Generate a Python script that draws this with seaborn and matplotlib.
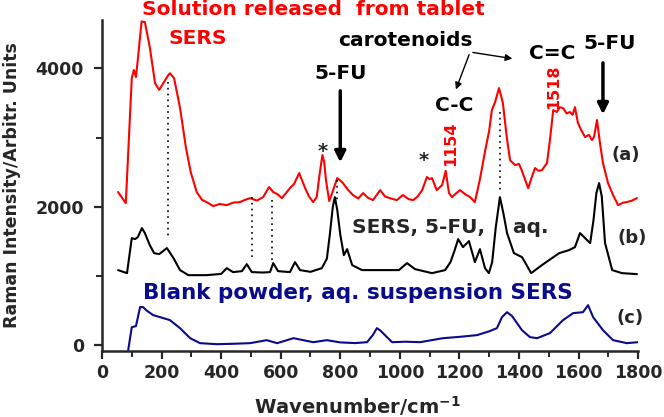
import pandas as pd
import matplotlib
matplotlib.use("Agg")
import matplotlib.pyplot as plt
import seaborn as sns

# spectra (wavenumber / cm-1, intensity)
red_wn = [54, 80, 100, 107, 114, 122, 133, 144, 161, 178, 192, 212, 222, 228, 242, 262, 282, 298, 318, 336,
          355, 373, 395, 419, 440, 463, 480, 497, 520, 541, 561, 575, 590, 604, 618, 631, 645, 662, 672, 682,
          695, 709, 721, 730, 740, 746, 752, 763, 776, 790, 800, 809, 825, 843, 860, 877, 893, 910, 934, 950,
          970, 990, 1010, 1030, 1045, 1060, 1075, 1091, 1100, 1108, 1124, 1142, 1154, 1165, 1175, 1190, 1202,
          1220, 1236, 1252, 1269, 1286, 1300, 1309, 1320, 1333, 1346, 1359, 1370, 1387, 1400, 1409, 1420, 1431,
          1443, 1454, 1466, 1477, 1494, 1504, 1515, 1527, 1537, 1548, 1560, 1571, 1580, 1588, 1598, 1610, 1622,
          1635, 1645, 1652, 1662, 1672, 1682, 1699, 1716, 1733, 1750, 1762, 1780, 1796]
red_int = [2213, 2053, 3860, 3977, 3875, 4200, 4680, 4670, 4295, 3790, 3690, 3830, 3900, 3930, 3860, 3430, 2850,
           2500, 2213, 2100, 2060, 2010, 2040, 2024, 2060, 2068, 2100, 2125, 2090, 2140, 2285, 2213, 2180, 2125,
           2200, 2270, 2330, 2487, 2380, 2270, 2150, 2068, 2140, 2450, 2748, 2650, 2386, 2082, 2241, 2415, 2380,
           2343, 2250, 2169, 2120, 2198, 2130, 2097, 2241, 2150, 2120, 2097, 2170, 2110, 2097, 2150, 2241, 2430,
           2400, 2415, 2241, 2314, 2520, 2200, 2140, 2198, 2241, 2180, 2140, 2068, 2400, 2800, 3100, 3398, 3514,
           3716, 3500, 3008, 2675, 2603, 2620, 2530, 2400, 2270, 2430, 2560, 2520, 2530, 2632, 2965, 3398, 3370,
           3440, 3427, 3350, 3370, 3330, 3441, 3210, 3100, 3008, 3040, 2965, 3008, 3254, 2921, 2632, 2343, 2169,
           2024, 2060, 2068, 2090, 2125]

black_wn = [54, 84, 100, 111, 120, 134, 144, 160, 175, 192, 218, 240, 262, 290, 352, 400, 419, 440, 470, 486,
            503, 540, 564, 575, 591, 631, 648, 665, 700, 738, 755, 765, 775, 782, 790, 800, 812, 823, 840, 873,
            997, 1024, 1051, 1108, 1152, 1170, 1182, 1196, 1212, 1232, 1252, 1269, 1286, 1299, 1310, 1322, 1336,
            1348, 1360, 1383, 1410, 1420, 1441, 1477, 1501, 1535, 1568, 1588, 1605, 1622, 1639, 1650, 1660, 1669,
            1678, 1689, 1713, 1746, 1796]
black_int = [1085, 1041, 1547, 1533, 1560, 1692, 1620, 1450, 1330, 1316, 1403, 1258, 1085, 1012, 1012, 1030,
             1113, 1056, 1070, 1171, 1056, 1050, 1056, 1186, 1070, 1056, 1200, 1085, 1060, 1113, 1250, 1600,
             2000, 2140, 1950, 1600, 1301, 1388, 1157, 1085, 1085, 1186, 1099, 1041, 1085, 1200, 1345, 1533,
             1417, 1504, 1200, 1388, 1113, 1041, 1200, 1700, 2140, 1900, 1620, 1330, 1273, 1200, 1041, 1157,
             1229, 1330, 1374, 1417, 1620, 1547, 1475, 1800, 2200, 2343, 2150, 1475, 1085, 1041, 1027]

blue_wn = [88, 100, 114, 128, 138, 150, 172, 195, 228, 262, 296, 329, 386, 440, 497, 553, 588, 643, 709, 755,
           800, 850, 890, 910, 923, 935, 950, 974, 1020, 1068, 1145, 1200, 1259, 1300, 1326, 1343, 1360, 1377,
           1410, 1437, 1461, 1504, 1548, 1582, 1615, 1632, 1649, 1682, 1716, 1762, 1800]
blue_int = [-72, 260, 275, 550, 550, 500, 434, 405, 362, 246, 101, 29, 14, 20, 29, 72, 29, 101, 43, 72,
            40, 30, 43, 150, 246, 210, 145, 43, 50, 43, 101, 120, 145, 200, 246, 405, 477, 420,
            217, 116, 101, 174, 362, 463, 477, 578, 405, 217, 72, 29, 43]

# dotted guide lines: wavenumber, top, bottom
guide_wn = [223, 504, 570, 790, 1335]
guide_top = [3800, 2140, 2100, 2390, 3370]
guide_bottom = [1547, 1230, 1200, 2050, 2213]

sns.set_style("ticks")
plt.rcParams['font.family'] = ['DejaVu Sans']
plt.rcParams['font.weight'] = 'bold'

fig = plt.figure(figsize=(6.64, 4.17), dpi=100)
ax = fig.add_axes([0.1536, 0.159, 0.8074, 0.793])

df_a = pd.DataFrame({"wn": red_wn, "I": red_int})
df_b = pd.DataFrame({"wn": black_wn, "I": black_int})
df_c = pd.DataFrame({"wn": blue_wn, "I": blue_int})

sns.lineplot(data=df_a, x="wn", y="I", color="#ff0000", lw=1.5, ax=ax, estimator=None, sort=False)
sns.lineplot(data=df_b, x="wn", y="I", color="black", lw=1.5, ax=ax, estimator=None, sort=False)
sns.lineplot(data=df_c, x="wn", y="I", color="#0a0a8c", lw=1.5, ax=ax, estimator=None, sort=False)

for w, t, b in zip(guide_wn, guide_top, guide_bottom):
    ax.plot([w, w], [t, b], ls=(0, (1, 2.5)), color="black", lw=1.2)

ax.set_xlim(0, 1800)
ax.set_ylim(-80, 4700)
ax.set_xticks(range(0, 1801, 200))
ax.set_xticks(range(100, 1800, 200), minor=True)
ax.set_yticks([0, 2000, 4000])
ax.set_yticks([1000, 3000], minor=True)
ax.tick_params(which="major", length=6, width=1.6, labelsize=12.5, direction="out")
ax.tick_params(axis="y", which="major", pad=7)
ax.tick_params(which="minor", length=4, width=1.4, direction="out")
for lab in ax.get_xticklabels() + ax.get_yticklabels():
    lab.set_fontweight("bold")
for s in ["left", "bottom"]:
    ax.spines[s].set_linewidth(1.8)
sns.despine(ax=ax)

ax.set_xlabel("Wavenumber/cm$^{\\mathbf{-1}}$", fontsize=14, fontweight="bold")
ax.set_ylabel("Raman Intensity/Arbitr. Units", fontsize=12.5, fontweight="bold")
ax.xaxis.set_label_coords(0.476, -0.13)
ax.yaxis.set_label_coords(-0.152, 0.5)

# annotations
big = dict(fontsize=14.5, fontweight="bold", ha="center", va="center")
ax.text(709, 4845, "Solution released  from tablet", color="#ff0000", **big)
ax.text(322, 4440, "SERS", color="#ff0000", **big)
ax.text(1017, 4410, "carotenoids", color="black", **big)
ax.text(1182, 3470, "C-C", color="black", **big)
ax.text(1511, 4215, "C=C", color="black", **big)
ax.text(1706, 4367, "5-FU", color="black", **big)
ax.text(803, 3933, "5-FU", color="black", **big)

ax.annotate("", xy=(1185, 3659), xytext=(1236, 4237),
            arrowprops=dict(arrowstyle="-|>", color="black", lw=1.0, mutation_scale=10))
ax.annotate("", xy=(1387, 4136), xytext=(1236, 4237),
            arrowprops=dict(arrowstyle="-|>", color="black", lw=1.0, mutation_scale=10))
ax.annotate("", xy=(1682, 3297), xytext=(1682, 4121),
            arrowprops=dict(arrowstyle="-|>", color="black", lw=2.5, mutation_scale=16))
ax.annotate("", xy=(800, 2603), xytext=(800, 3716),
            arrowprops=dict(arrowstyle="-|>", color="black", lw=2.5, mutation_scale=16))

ax.text(742, 2800, "*", fontsize=14, fontweight="bold", ha="center", va="center")
ax.text(1081, 2670, "*", fontsize=14, fontweight="bold", ha="center", va="center")
ax.text(1172, 2907, "1154", color="#ff0000", fontsize=11.5, rotation=90, ha="center", va="center")
ax.text(1518, 3730, "1518", color="#ff0000", fontsize=11.5, rotation=90, ha="center", va="center")

ax.text(1760, 2748, "(a)", fontsize=13, ha="center", va="center")
ax.text(1780, 1547, "(b)", fontsize=13, ha="center", va="center")
ax.text(1773, 390, "(c)", fontsize=13, ha="center", va="center")

ax.text(840, 1706, "SERS, 5-FU,    aq.", fontsize=14.5, fontweight="bold", ha="left", va="center")
ax.text(138, 752, "Blank powder, aq. suspension SERS", color="#0a0a8c", fontsize=15.5,
        fontweight="bold", ha="left", va="center")

fig.savefig("out.png", dpi=100)
